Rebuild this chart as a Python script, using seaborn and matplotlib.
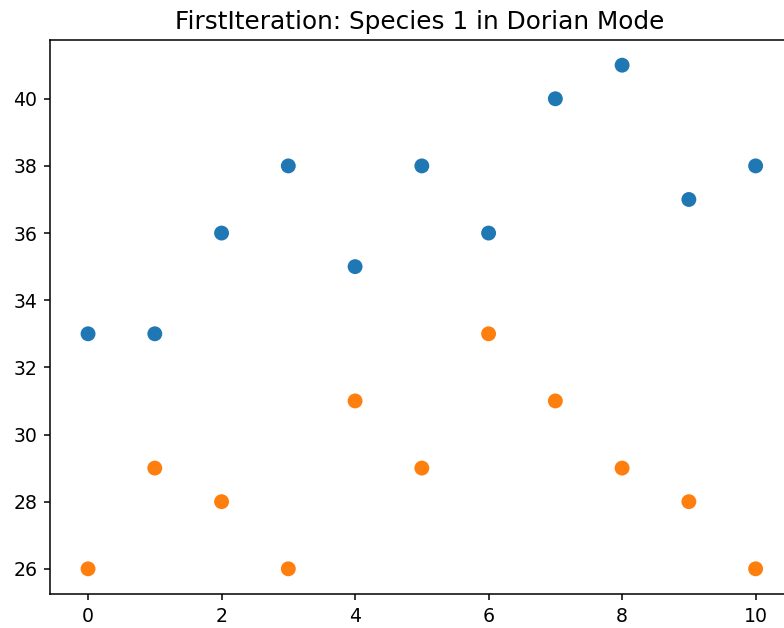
import numpy as np
import pandas as pd
import matplotlib
matplotlib.use("Agg")
import matplotlib.pyplot as plt
import seaborn as sns

# Data
x_steps = list(range(11))
upper_voice = [33, 33, 36, 38, 35, 38, 36, 40, 41, 37, 38]
lower_voice = [26, 29, 28, 26, 31, 29, 33, 31, 29, 28, 26]
series_names = ["upper", "lower"]
series_colors = ["#1f77b4", "#ff7f0e"]

df = pd.DataFrame({
    "step": x_steps * 2,
    "pitch": upper_voice + lower_voice,
    "voice": [series_names[0]] * len(x_steps) + [series_names[1]] * len(x_steps),
})

sns.set_style("ticks")
plt.rcParams["font.family"] = ["DejaVu Sans"]
plt.rcParams["text.color"] = "black"
plt.rcParams["xtick.color"] = "black"
plt.rcParams["ytick.color"] = "black"

fig = plt.figure(figsize=(7.84, 6.28), dpi=100)
ax = fig.add_axes([50 / 784, 34 / 628, 739 / 784, 554 / 628])

sns.scatterplot(data=df, x="step", y="pitch", hue="voice",
                palette=series_colors, hue_order=series_names,
                s=115, linewidth=0, legend=False, ax=ax)

ax.set_xlim(-0.57, 10.5)
ax.set_xlabel("")
ax.set_ylabel("")
ax.set_title("FirstIteration: Species 1 in Dorian Mode", fontsize=17.8, pad=8)
ax.tick_params(labelsize=13.6, length=4.5, width=1.1, color="black", pad=4.5)
for spine in ax.spines.values():
    spine.set_color("black")
    spine.set_linewidth(1.1)

fig.savefig("out.png", dpi=100)
